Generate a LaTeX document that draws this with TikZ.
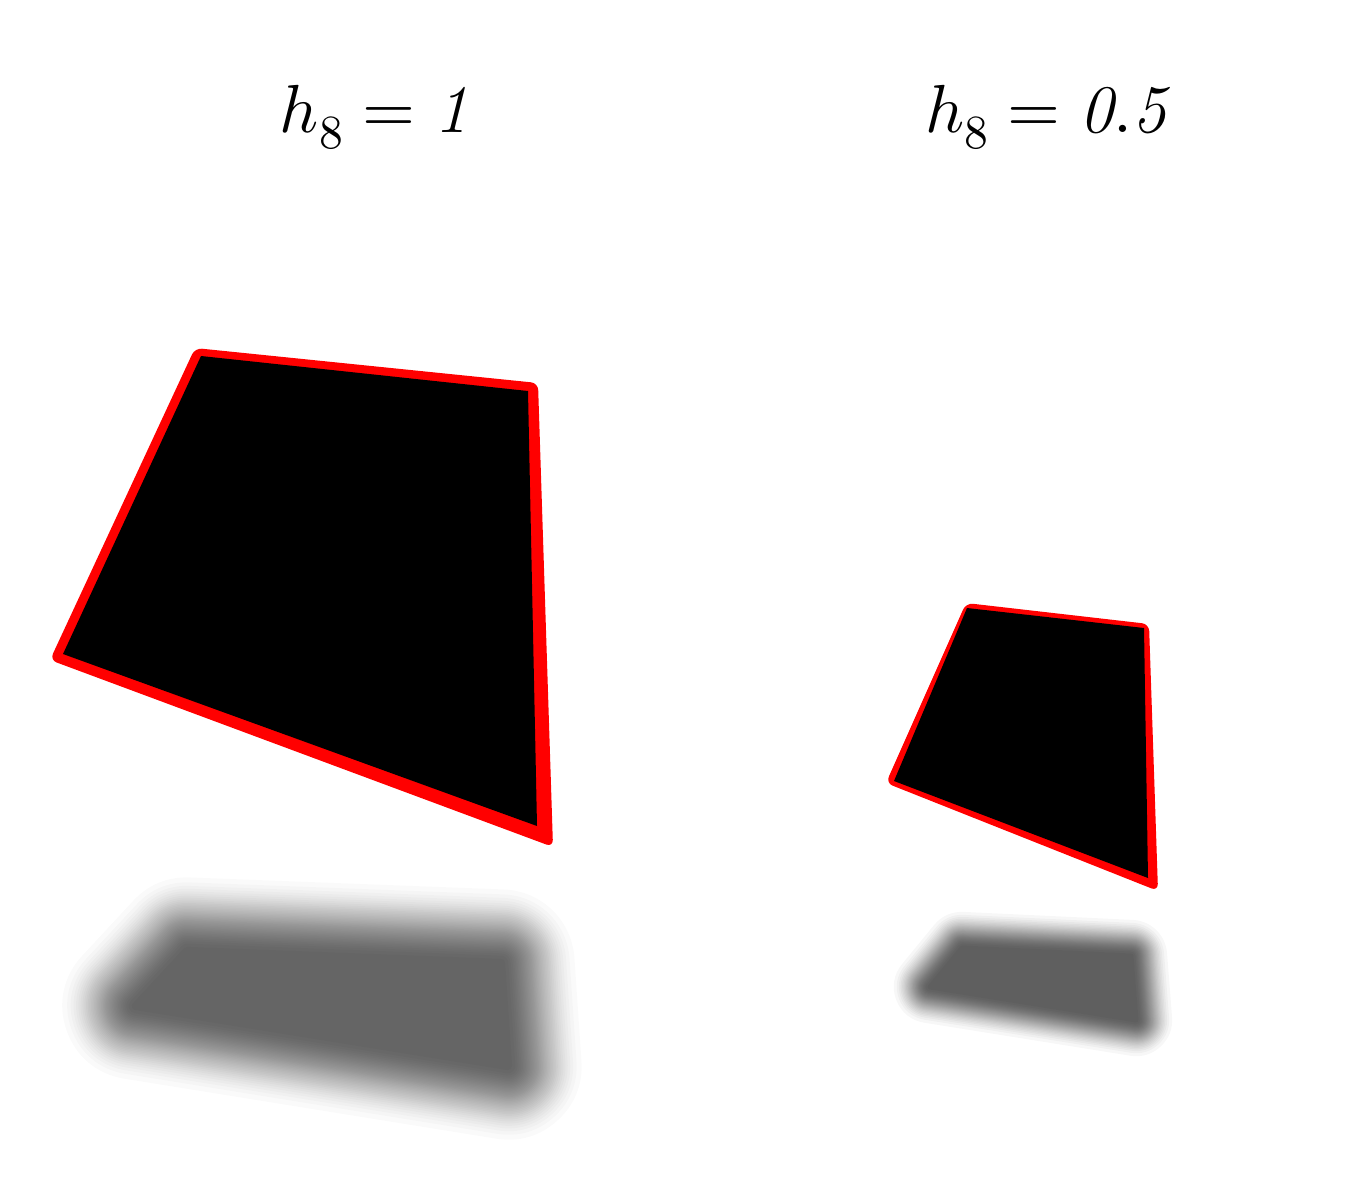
\documentclass[tikz,border=0pt]{standalone}
\usepackage{unicode-math}
\setmathfont{Latin Modern Math}
\definecolor{rimred}{RGB}{255,0,0}
\tikzset{
  lbl/.style={font=\fontsize{68}{80}\selectfont, inner sep=0pt, anchor=base},
  rim/.style={fill=rimred, rounded corners=7pt},
  face/.style={fill=black},
}
% #1 core polygon, #2 blur width, #3 number of layers
% layer radii chosen so that the edge fades along a smoothstep curve
\newcommand{\blurshadow}[3]{%
  \pgfmathsetmacro{\shop}{1-0.42^(1/#3)}%
  \foreach \i in {1,...,#3}{%
    \pgfmathsetmacro{\tt}{(\i-0.5)/#3}%
    \pgfmathsetmacro{\gg}{(1-0.42^\tt)/0.58}%
    \pgfmathsetmacro{\uu}{0.5-sin(asin(1-2*(1-\gg))/3)}%
    \pgfmathsetmacro{\lw}{2*#2*\uu+0.01}%
    \begin{scope}[transparency group, opacity=\shop]
      \filldraw[black, line join=round, line width=\lw pt] #1 -- cycle;
    \end{scope}
  }}
\begin{document}
\begin{tikzpicture}[x=1pt, y=-1pt]
  \useasboundingbox[fill=white] (0,0) rectangle (1371,1179);

  % blurred shadows
  \blurshadow{(187,951) -- (501,963) -- (508,1066) -- (136,1006)}{80}{40}
  \blurshadow{(962,948) -- (1131,956) -- (1136,1020) -- (930,987)}{40}{28}

  % large plate
  \fill[rim] (195,348) -- (538,383) -- (553,847) -- (50,660) -- cycle;
  \fill[face] (201,356) -- (528,391) -- (537,826) -- (63,654) -- cycle;

  % small plate
  \fill[rim] (966,603) -- (1149,624) -- (1158,891) -- (886,783) -- cycle;
  \fill[face] (967,608) -- (1144,628) -- (1148,878) -- (894,781) -- cycle;

  % labels
  \node[lbl] (l1) at (374,132) {$h_8 = \mathit{1}$};
  \node[lbl] (l2) at (1046,132) {$h_8 = \mathit{0.5}$};
\end{tikzpicture}
\end{document}
